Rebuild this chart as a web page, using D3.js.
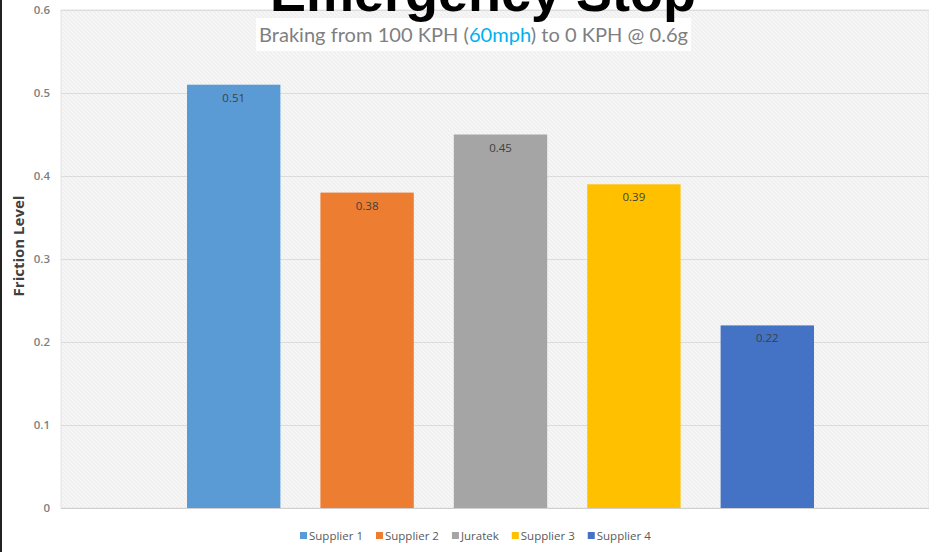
<!DOCTYPE html>
<html>
<head>
<meta charset="utf-8">
<script src="https://cdn.jsdelivr.net/npm/d3@7"></script>
<style>
  body { margin: 0; background: #fff; }
  svg { display: block; }
</style>
</head>
<body>
<script>
// data ==========================================
var suppliers = ["Supplier 1", "Supplier 2", "Juratek", "Supplier 3", "Supplier 4"];
var friction = [0.51, 0.38, 0.45, 0.39, 0.22];
var barColors = ["#5b9bd5", "#ed7d31", "#a5a5a5", "#ffc000", "#4472c4"];
var yTicks = [0, 0.1, 0.2, 0.3, 0.4, 0.5, 0.6];

var width = 929, height = 552;
var plot = { left: 61, right: 929, top: 10, bottom: 508 };

var svg = d3.select("body").append("svg")
    .attr("width", width)
    .attr("height", height);

// diagonal hatch like the excel plot fill
var defs = svg.append("defs");
var pat = defs.append("pattern")
    .attr("id", "hatch")
    .attr("patternUnits", "userSpaceOnUse")
    .attr("width", 4).attr("height", 4);
pat.append("rect").attr("width", 4).attr("height", 4).attr("fill", "#efefef");
pat.append("path")
    .attr("d", "M-1,-1 L5,5 M-1,3 L1,5 M3,-1 L5,1")
    .attr("stroke", "#fafafa")
    .attr("stroke-width", 1.2);

var y = d3.scaleLinear()
    .domain([0, 0.6])
    .range([plot.bottom, plot.top]);

var x = d3.scaleBand()
    .domain(suppliers)
    .range([167, 834])
    .paddingInner(0.3)
    .paddingOuter(0.15);

var color = d3.scaleOrdinal(suppliers, barColors);

svg.append("rect")
    .attr("x", plot.left)
    .attr("y", plot.top)
    .attr("width", plot.right - plot.left)
    .attr("height", plot.bottom - plot.top)
    .attr("fill", "url(#hatch)")
    .attr("stroke", "#e4e4e4");

// gridlines
svg.append("g")
  .selectAll("line")
    .data(yTicks)
  .enter().append("line")
    .attr("x1", plot.left)
    .attr("x2", plot.right)
    .attr("y1", d => Math.round(y(d)) + 0.5)
    .attr("y2", d => Math.round(y(d)) + 0.5)
    .attr("stroke", d => d === 0 ? "#d0d0d0" : "#dcdcdc")
    .attr("stroke-width", 1);

// y axis labels
var yAxis = d3.axisLeft(y)
    .tickValues(yTicks)
    .tickSize(0)
    .tickPadding(11)
    .tickFormat(d => d === 0 ? "0" : d3.format(".1f")(d));

var yg = svg.append("g")
    .attr("transform", "translate(" + plot.left + ",0)")
    .call(yAxis);
yg.select(".domain").remove();
yg.selectAll("text")
    .attr("fill", "#7f7f7f")
    .attr("font-family", "'Open Sans', sans-serif")
    .attr("font-weight", "600")
    .attr("font-size", "11.5px");

svg.append("text")
    .attr("transform", "translate(24," + 246 + ") rotate(-90)")
    .attr("text-anchor", "middle")
    .attr("fill", "#404040")
    .attr("font-family", "'Open Sans', sans-serif")
    .attr("font-weight", "bold")
    .attr("font-size", "15px")
    .text("Friction Level");

// bars
svg.append("g")
  .selectAll("rect")
    .data(suppliers)
  .enter().append("rect")
    .attr("x", d => x(d))
    .attr("y", (d, i) => y(friction[i]))
    .attr("width", x.bandwidth())
    .attr("height", (d, i) => y(0) - y(friction[i]))
    .attr("fill", d => color(d));

svg.append("g")
  .selectAll("text")
    .data(suppliers)
  .enter().append("text")
    .attr("x", d => x(d) + x.bandwidth() / 2)
    .attr("y", (d, i) => y(friction[i]) + 17)
    .attr("text-anchor", "middle")
    .attr("fill", "#404040")
    .attr("font-family", "'Open Sans', sans-serif")
    .attr("font-size", "11.5px")
    .text((d, i) => friction[i]);

// subtitle box + text
svg.append("rect")
    .attr("x", 256).attr("y", 18)
    .attr("width", 435).attr("height", 33)
    .attr("fill", "#fff");

var sub = svg.append("text")
    .attr("x", 259).attr("y", 42)
    .attr("fill", "#7f7f7f")
    .attr("font-family", "Lato, 'Open Sans', sans-serif")
    .attr("font-size", "20px")
    .attr("textLength", 429)
    .attr("lengthAdjust", "spacingAndGlyphs");
sub.append("tspan").text("Braking from 100 KPH (");
sub.append("tspan").attr("fill", "#00b0f0").text("60mph");
sub.append("tspan").text(") to 0 KPH @ 0.6g");

// main title, mostly cut off at the top
svg.append("text")
    .attr("x", 483).attr("y", 11)
    .attr("text-anchor", "middle")
    .attr("fill", "#000")
    .attr("font-family", "'Liberation Sans', Arial, sans-serif")
    .attr("font-weight", "bold")
    .attr("font-size", "54px")
    .text("Emergency Stop");

// legend
var legend = svg.append("g").attr("transform", "translate(300,536)");
var lx = 0;
suppliers.forEach(function(s) {
  var g = legend.append("g").attr("transform", "translate(" + lx + ",0)");
  g.append("rect")
      .attr("x", 0).attr("y", -4)
      .attr("width", 7).attr("height", 7)
      .attr("fill", color(s));
  var t = g.append("text")
      .attr("x", 9).attr("y", 4)
      .attr("fill", "#595959")
      .attr("font-family", "'Open Sans', sans-serif")
      .attr("font-size", "11.5px")
      .text(s);
  lx += 9 + t.node().getComputedTextLength() + 13;
});

// dark border on the left edge of the screenshot
svg.append("rect")
    .attr("x", 0).attr("y", 0)
    .attr("width", 2).attr("height", height)
    .attr("fill", "#222");
</script>
</body>
</html>
